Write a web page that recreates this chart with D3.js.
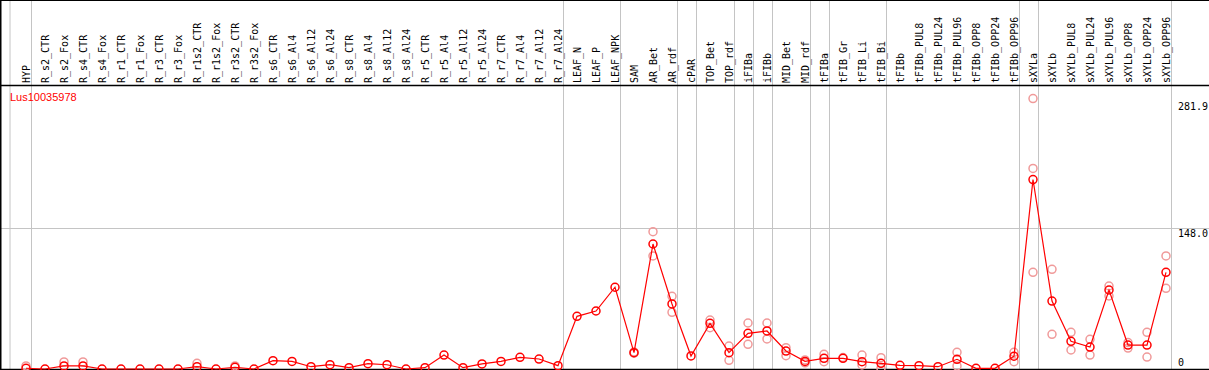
<!DOCTYPE html>
<html>
<head>
<meta charset="utf-8">
<script src="https://cdn.jsdelivr.net/npm/d3@7"></script>
<style>
  body { margin: 0; background: #fff; }
  svg { display: block; }
</style>
</head>
<body>
<div id="chart"></div>
<script>
// sample names (x categories)
const categories = ["HYP",
  "R_s2_CTR","R_s2_Fox","R_s4_CTR","R_s4_Fox","R_r1_CTR","R_r1_Fox","R_r3_CTR","R_r3_Fox",
  "R_r1s2_CTR","R_r1s2_Fox","R_r3s2_CTR","R_r3s2_Fox",
  "R_s6_CTR","R_s6_Al4","R_s6_Al12","R_s6_Al24","R_s8_CTR","R_s8_Al4","R_s8_Al12","R_s8_Al24",
  "R_r5_CTR","R_r5_Al4","R_r5_Al12","R_r5_Al24","R_r7_CTR","R_r7_Al4","R_r7_Al12","R_r7_Al24",
  "LEAF_N","LEAF_P","LEAF_NPK","SAM","AR_Bet","AR_rdf","cPAR","TOP_Bet","TOP_rdf",
  "iFIBa","iFIBb","MID_Bet","MID_rdf","tFIBa","tFIB_Gr","tFIB_Li","tFIB_Bi",
  "tFIBb","tFIBb_PUL8","tFIBb_PUL24","tFIBb_PUL96","tFIBb_OPP8","tFIBb_OPP24","tFIBb_OPP96",
  "sXYLa","sXYLb","sXYLb_PUL8","sXYLb_PUL24","sXYLb_PUL96","sXYLb_OPP8","sXYLb_OPP24","sXYLb_OPP96"];

// number of samples in each separated group
const groupSizes = [1, 28, 3, 3, 1, 2, 1, 1, 2, 1, 3, 7, 1, 7];

// mean expression per sample
const meanValues = [0.8,
  0, 3.2, 3.2, 0, 0, 0, 0, 0,
  2.4, 0, 1.8, 0,
  8.7, 8, 2.4, 4.5, 1.4, 5.6, 4.5, 0,
  1.4, 14.7, 1.4, 5.3, 8, 12.3, 10.5, 3.5,
  55.4, 61, 86, 17.2, 131.5, 68.4, 13.7, 48, 17.2,
  37.5, 40, 18.9, 8, 11.2, 11.2, 7.7, 6,
  3.9, 3.5, 2.4, 10.2, 0.7, 0.7, 13.4,
  199.3, 71.5, 29.1, 23.1, 83.1, 25.2, 25.2, 101.7];

// replicate values per sample (light circles)
const replicateValues = [[3.2],
  [], [7.4], [7.4], [], [], [], [], [],
  [6], [], [3.2], [],
  [], [], [], [], [], [], [], [],
  [], [], [], [], [], [], [], [],
  [], [], [], [17.8, 16.6], [144.4, 118.9], [76.5, 59.6], [], [51.5, 43.4], [24.2, 9.1],
  [48.4, 26], [48.4, 31.6], [22.4, 14], [9.5, 6.5], [15.4, 7.7], [12], [14.7, 4.2], [11.9, 0.7],
  [], [], [], [17.6, 3.2], [], [], [17.6, 7.7],
  [284.5, 211, 101.7], [104.8, 36.5], [38.6, 20], [31.2, 14.7], [87.3, 76.8], [27.8, 22], [38.6, 12.6], [118.9, 84.9]];

const yTicks = [281.9, 148.0, 0];
const yTickLabels = ["281.9", "148.0", "0"];
const geneName = "Lus10035978";

const width = 1209, height = 370;
const headerBottom = 85.5;

let svg = d3.select("#chart")
  .append("svg")
    .attr("width", width)
    .attr("height", height);

let x = d3.scalePoint()
  .domain(categories)
  .range([26, 1166]);

let y = d3.scaleLinear()
  .domain([0, 281.9])
  .range([369, 101]);

// vertical separators between sample groups
let sepX = [10];
let acc = 0;
groupSizes.forEach(n => {
  acc += n;
  sepX.push(Math.round(x(categories[acc - 1]) + 4.5) + 0.5);
});

svg.append("g")
  .selectAll("line")
  .data(sepX)
  .enter().append("line")
    .attr("x1", d => d).attr("x2", d => d)
    .attr("y1", 0).attr("y2", height)
    .attr("stroke", "#c4c4c4")
    .attr("stroke-width", 1);

// horizontal grid at the middle tick
svg.append("line")
  .attr("x1", 0).attr("x2", width)
  .attr("y1", Math.round(y(148)) + 0.5).attr("y2", Math.round(y(148)) + 0.5)
  .attr("stroke", "#c4c4c4");

// frame lines
svg.append("line").attr("x1", 0).attr("x2", width).attr("y1", 0.5).attr("y2", 0.5).attr("stroke", "#000");
svg.append("line").attr("x1", 0).attr("x2", width).attr("y1", headerBottom).attr("y2", headerBottom).attr("stroke", "#000").attr("stroke-width", 1.5);
svg.append("line").attr("x1", 0).attr("x2", width).attr("y1", 369.5).attr("y2", 369.5).attr("stroke", "#000").attr("stroke-width", 1.5);
svg.append("line").attr("x1", 0.75).attr("x2", 0.75).attr("y1", 0).attr("y2", height).attr("stroke", "#000").attr("stroke-width", 1.5);

// rotated sample labels in header
svg.append("g")
  .selectAll("text")
  .data(categories)
  .enter().append("text")
    .attr("transform", d => "translate(" + (x(d) + 3.5) + "," + 83 + ") rotate(-90)")
    .style("font-family", "'DejaVu Sans Mono', monospace")
    .style("font-size", "10px")
    .attr("fill", "#000")
    .text(d => d);

// y tick labels on the right
svg.append("g")
  .selectAll("text")
  .data(yTicks)
  .enter().append("text")
    .attr("x", 1178)
    .attr("y", (d, i) => d === 0 ? y(d) - 3 : y(d) + 9)
    .style("font-family", "'DejaVu Sans Mono', monospace")
    .style("font-size", "10px")
    .attr("fill", "#000")
    .text((d, i) => yTickLabels[i]);

// gene name
svg.append("text")
  .attr("x", 10)
  .attr("y", 101)
  .attr("fill", "red")
  .style("font-family", "'Liberation Sans', Arial, sans-serif")
  .style("font-size", "11px")
  .text(geneName);

// replicate circles
let reps = [];
replicateValues.forEach((vals, i) => vals.forEach(v => reps.push({cat: categories[i], v: v})));

svg.append("g")
  .selectAll("circle")
  .data(reps)
  .enter().append("circle")
    .attr("cx", d => x(d.cat))
    .attr("cy", d => y(d.v))
    .attr("r", 4)
    .attr("fill", "none")
    .attr("stroke", "#f09a9a")
    .attr("stroke-width", 1.5);

// mean line
let line = d3.line()
  .x((d, i) => x(categories[i]))
  .y(d => y(d));

svg.append("path")
  .datum(meanValues)
  .attr("d", line)
  .attr("fill", "none")
  .attr("stroke", "red")
  .attr("stroke-width", 1.2);

// mean circles
svg.append("g")
  .selectAll("circle")
  .data(meanValues)
  .enter().append("circle")
    .attr("cx", (d, i) => x(categories[i]))
    .attr("cy", d => y(d))
    .attr("r", 4)
    .attr("fill", "none")
    .attr("stroke", "red")
    .attr("stroke-width", 1.5);
</script>
</body>
</html>
